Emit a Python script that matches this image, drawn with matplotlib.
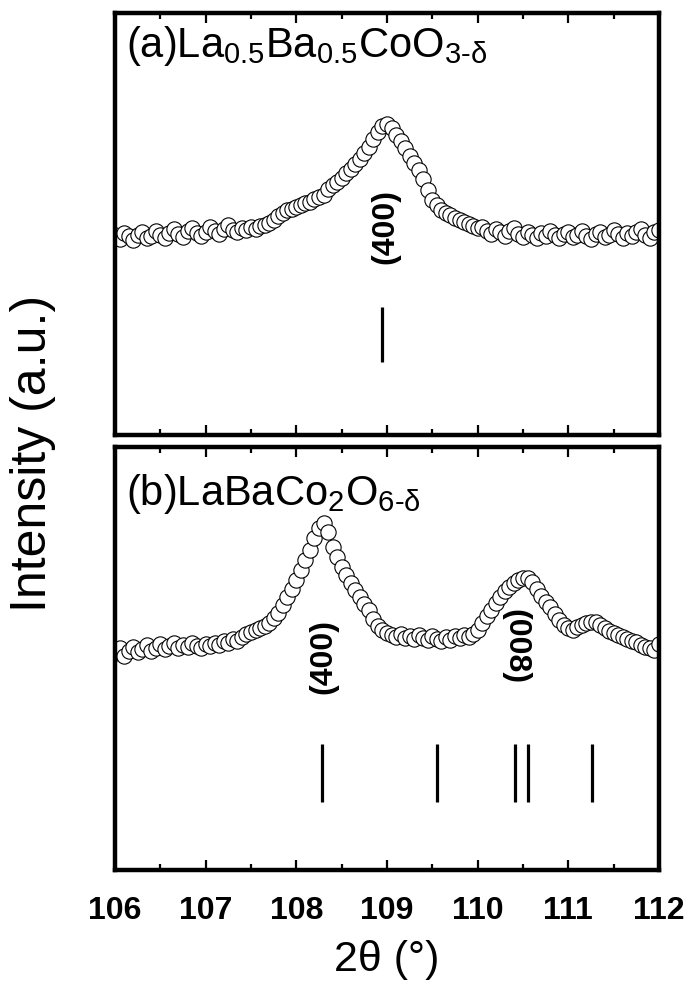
import numpy as np
import matplotlib
matplotlib.use("Agg")
import matplotlib.pyplot as plt
from matplotlib.ticker import MultipleLocator

plt.rcParams['font.family'] = ['Liberation Sans', 'DejaVu Sans']
plt.rcParams['mathtext.default'] = 'regular'

# 2theta scan grid (deg)
two_theta = np.linspace(106, 112, 121)

# (a) La0.5Ba0.5CoO3-d, measured intensity (a.u.)
int_a = [200, 196, 202, 199, 195, 200, 203, 197, 199, 204,
         200, 197, 202, 206, 201, 198, 204, 207, 202, 199,
         203, 208, 204, 201, 206, 210, 205, 203, 207, 205,
         208, 206, 209, 210, 212, 215, 219, 222, 225, 226,
         228, 230, 232, 233, 236, 238, 240, 246, 250, 253,
         257, 262, 266, 271, 276, 282, 288, 296, 303, 309,
         311, 307, 300, 294, 287, 279, 272, 265, 256, 245,
         235, 230, 225, 222, 220, 217, 215, 213, 211, 209,
         207, 208, 204, 201, 206, 203, 199, 204, 207, 201,
         198, 203, 200, 197, 202, 199, 204, 200, 197, 201,
         203, 198, 200, 204, 199, 196, 201, 203, 198, 200,
         205, 201, 197, 202, 199, 203, 206, 200, 197, 203,
         205]

# (b) LaBaCo2O6-d, measured intensity (a.u.)
int_b = [217, 222, 214, 219, 223, 218, 221, 225, 219, 222,
         226, 221, 224, 227, 222, 225, 223, 227, 224, 222,
         226, 224, 227, 225, 229, 227, 231, 229, 233, 236,
         238, 240, 242, 244, 247, 252, 257, 265, 273, 281,
         290, 300, 310, 320, 332, 342, 347, 338, 323, 313,
         303, 295, 287, 280, 273, 266, 260, 251, 244, 240,
         237, 235, 233, 236, 232, 234, 231, 235, 232, 230,
         234, 231, 229, 233, 230, 234, 232, 235, 233, 236,
         240, 247, 254, 260, 267, 273, 279, 283, 287, 290,
         292, 292, 288, 281, 274, 268, 263, 256, 250, 245,
         242, 240, 243, 245, 247, 248, 248, 245, 242, 239,
         237, 235, 233, 231, 229, 228, 225, 223, 222, 220,
         226]

# reference reflection positions
ref_a = [108.95]
ref_b = [108.28, 109.55, 110.41, 110.55, 111.26]

titles = ['(a)La$_{0.5}$Ba$_{0.5}$CoO$_{3\u2010\u03b4}$',
          '(b)LaBaCo$_{2}$O$_{6\u2010\u03b4}$']

fig = plt.figure(figsize=(6.91, 9.9), dpi=100)
ax_a = fig.add_axes([0.1664, 0.5606, 0.7873, 0.4263])
ax_b = fig.add_axes([0.1664, 0.1212, 0.7873, 0.4273])

mk = dict(marker='o', ms=11, mfc='white', mec='black', mew=0.8, ls='none')

for ax in (ax_a, ax_b):
    ax.set_xlim(106, 112)
    ax.xaxis.set_major_locator(MultipleLocator(1))
    ax.xaxis.set_minor_locator(MultipleLocator(0.5))
    ax.tick_params(axis='x', which='both', direction='in', top=True, bottom=True,
                   width=1.6)
    ax.tick_params(axis='x', which='major', length=7)
    ax.tick_params(axis='x', which='minor', length=4)
    ax.set_yticks([])
    for s in ax.spines.values():
        s.set_linewidth(3.2)

ax_a.plot(two_theta, int_a, **mk)
ax_a.set_ylim(0, 422)
ax_a.vlines(ref_a, 73, 128, color='black', lw=2.3)
ax_a.tick_params(axis='x', labelbottom=False)
ax_a.text(0.02, 0.975, titles[0], transform=ax_a.transAxes, fontsize=30,
          va='top', ha='left')
ax_a.text(108.98, 208, '(400)', rotation=90, fontsize=23, fontweight='bold',
          ha='center', va='center')

ax_b.plot(two_theta, int_b, **mk)
ax_b.set_ylim(0, 423)
ax_b.vlines(ref_b, 68, 126, color='black', lw=2.3)
ax_b.text(0.02, 0.94, titles[1], transform=ax_b.transAxes, fontsize=30,
          va='top', ha='left')
ax_b.text(108.3, 213, '(400)', rotation=90, fontsize=23, fontweight='bold',
          ha='center', va='center')
ax_b.text(110.42, 223, '(008)', rotation=-90, fontsize=23, fontweight='bold',
          ha='center', va='center')

for lab in ax_b.get_xticklabels():
    lab.set_fontweight('bold')
ax_b.tick_params(axis='x', labelsize=23, pad=19)
ax_b.set_xlabel('2\u03b8 (\u00b0)', fontsize=31, labelpad=10)

fig.text(0.048, 0.5424, 'Intensity (a.u.)', rotation=90, fontsize=36,
         ha='center', va='center')

fig.savefig('out.png', dpi=100)
